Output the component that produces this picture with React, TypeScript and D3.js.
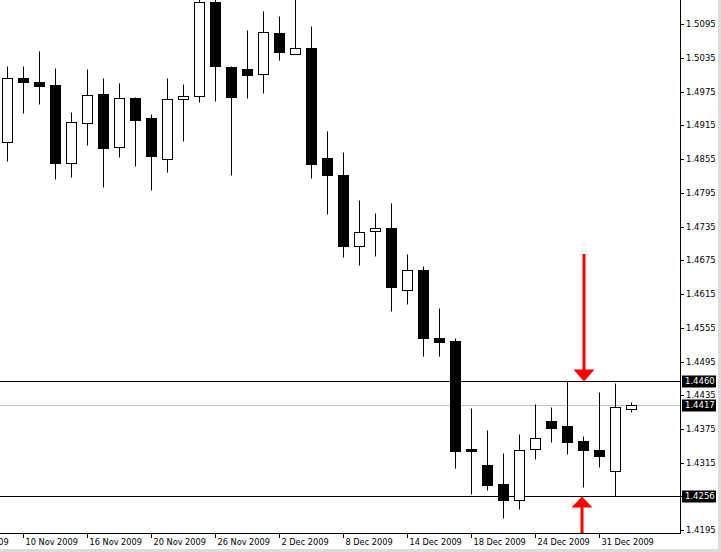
import React from "react";
import * as d3 from "d3";

const dates = [
  "9 Nov 2009","10 Nov 2009","11 Nov 2009","12 Nov 2009","13 Nov 2009",
  "16 Nov 2009","17 Nov 2009","18 Nov 2009","19 Nov 2009","20 Nov 2009",
  "23 Nov 2009","24 Nov 2009","25 Nov 2009","26 Nov 2009","27 Nov 2009",
  "30 Nov 2009","1 Dec 2009","2 Dec 2009","3 Dec 2009","4 Dec 2009",
  "7 Dec 2009","8 Dec 2009","9 Dec 2009","10 Dec 2009","11 Dec 2009",
  "14 Dec 2009","15 Dec 2009","16 Dec 2009","17 Dec 2009","18 Dec 2009",
  "21 Dec 2009","22 Dec 2009","23 Dec 2009","24 Dec 2009",
  "28 Dec 2009","29 Dec 2009","30 Dec 2009","31 Dec 2009",
  "1 Jan 2010","4 Jan 2010",
];
const opens = [1.4885,1.4999,1.4992,1.4987,1.4849,1.4919,1.4971,1.4876,1.4964,1.4928,1.4855,1.4962,1.4967,1.5135,1.5019,1.5015,1.5006,1.5079,1.5043,1.5052,1.4857,1.4827,1.4701,1.4727,1.4733,1.4623,1.4658,1.4537,1.4532,1.4340,1.4311,1.4277,1.4248,1.4339,1.4390,1.4380,1.4354,1.4338,1.4301,1.4411];
const highs = [1.5021,1.5021,1.5048,1.5017,1.4939,1.5015,1.4999,1.4991,1.4965,1.4935,1.4999,1.4989,1.5140,1.5150,1.5021,1.5085,1.5119,1.5110,1.5140,1.5092,1.4905,1.4867,1.4782,1.4759,1.4777,1.4686,1.4665,1.4590,1.4537,1.4412,1.4374,1.4332,1.4366,1.4419,1.4414,1.4460,1.4362,1.4441,1.4457,1.4423];
const lows = [1.4852,1.4938,1.4954,1.4820,1.4824,1.4881,1.4806,1.4859,1.4843,1.4801,1.4833,1.4888,1.4956,1.4959,1.4827,1.4963,1.4972,1.5032,1.5043,1.4821,1.4757,1.4681,1.4667,1.4683,1.4585,1.4598,1.4504,1.4505,1.4305,1.4260,1.4267,1.4217,1.4233,1.4322,1.4352,1.4331,1.4272,1.4307,1.4256,1.4406];
const closes = [1.4999,1.4993,1.4986,1.4849,1.4921,1.4970,1.4875,1.4963,1.4925,1.4861,1.4962,1.4968,1.5134,1.5020,1.4966,1.5004,1.5081,1.5045,1.5052,1.4846,1.4826,1.4701,1.4725,1.4732,1.4628,1.4657,1.4537,1.4530,1.4336,1.4335,1.4276,1.4248,1.4338,1.4359,1.4377,1.4352,1.4338,1.4326,1.4414,1.4417];

const xTickIndex = [-3,1,5,9,13,17,21,25,29,33,37];
const xTickLabels = ["4 Nov 2009","10 Nov 2009","16 Nov 2009","20 Nov 2009","26 Nov 2009","2 Dec 2009","8 Dec 2009","14 Dec 2009","18 Dec 2009","24 Dec 2009","31 Dec 2009"];
const yTicks = [1.5095,1.5035,1.4975,1.4915,1.4855,1.4795,1.4735,1.4675,1.4615,1.4555,1.4495,1.4435,1.4375,1.4315,1.4255,1.4195];
const levelLines = [1.4460, 1.4256];
const lastPrice = 1.4417;
const arrowIndex = 36;

const W = 721, H = 552;
const PR = 680; // plot right (axis line)
const PB = 533; // plot bottom (axis line)
const FONT = "'DejaVu Sans', Tahoma, sans-serif";

export default function App() {
  const x = d3.scaleLinear().domain([0, 39]).range([7.5, 631.5]);
  const y = d3.scaleLinear().domain([1.4195, 1.5095]).range([530.1, 24.3]);
  const cy = (v: number) => Math.round(y(v)) + 0.5;

  const candles = opens.map((o, i) => {
    const c = closes[i];
    const cx = x(i);
    const top = cy(Math.max(o, c));
    const bot = cy(Math.min(o, c));
    const bull = c >= o;
    return (
      <g key={i}>
        <line x1={cx} x2={cx} y1={cy(highs[i])} y2={cy(lows[i])} stroke="#000" strokeWidth={1} />
        <rect x={cx - 5} y={top} width={10} height={Math.max(bot - top, 1)} fill={bull ? "#fff" : "#000"} stroke="#000" strokeWidth={1} />
      </g>
    );
  });

  const ax = x(arrowIndex);
  const downTip = cy(levelLines[0]);
  const upTip = cy(levelLines[1]);

  return (
    <div style={{ position: "fixed", left: 0, top: 0, width: W, height: H, background: "#fff" }}>
      <svg width={W} height={H} style={{ display: "block" }} fontFamily={FONT}>
        <rect x={0} y={0} width={W} height={H} fill="#fff" />
        <defs>
          <clipPath id="plot">
            <rect x={0} y={0} width={PR} height={PB} />
          </clipPath>
        </defs>
        <g clipPath="url(#plot)">
          <line x1={0} x2={PR} y1={cy(lastPrice)} y2={cy(lastPrice)} stroke="#c0c0c0" strokeWidth={1} />
          {levelLines.map((v, i) => (
            <line key={i} x1={0} x2={PR} y1={cy(v)} y2={cy(v)} stroke="#000" strokeWidth={1} />
          ))}
          {candles}
          {/* down arrow */}
          <rect x={ax - 1} y={254} width={3} height={downTip - 11 - 254} fill="#ff0000" />
          <path d={`M${ax - 10},${downTip - 12} L${ax + 11},${downTip - 12} L${ax + 0.5},${downTip} Z`} fill="#ff0000" />
          {/* up arrow */}
          <rect x={ax - 3} y={upTip + 10} width={3} height={PB - upTip} fill="#ff0000" />
          <path d={`M${ax - 12},${upTip + 11} L${ax + 9},${upTip + 11} L${ax - 1.5},${upTip} Z`} fill="#ff0000" />
        </g>
        {/* axes */}
        <line x1={PR + 0.5} x2={PR + 0.5} y1={0} y2={PB + 1} stroke="#000" strokeWidth={1} />
        <line x1={0} x2={PR + 1} y1={PB + 0.5} y2={PB + 0.5} stroke="#000" strokeWidth={1} />
        {yTicks.map((v, i) => (
          <g key={i}>
            <line x1={PR} x2={PR + 4} y1={cy(v)} y2={cy(v)} stroke="#000" />
            <text x={686} y={cy(v)} dy="0.35em" fontSize={8.5} fill="#000">{v.toFixed(4)}</text>
          </g>
        ))}
        {xTickIndex.map((k, i) => (
          <g key={i}>
            <line x1={Math.floor(x(k)) + 0.5} x2={Math.floor(x(k)) + 0.5} y1={PB} y2={PB + 5} stroke="#000" />
            <text x={x(k) + 2} y={545} fontSize={8.2} fill="#000">{xTickLabels[i]}</text>
          </g>
        ))}
        {[...levelLines, lastPrice].map((v, i) => (
          <g key={i}>
            <rect x={682} y={cy(v) - 6} width={34} height={12} fill="#000" />
            <text x={685} y={cy(v)} dy="0.35em" fontSize={8.5} fill="#fff">{v.toFixed(4)}</text>
          </g>
        ))}
        {/* window frame strips */}
        <rect x={718} y={0} width={3} height={H} fill="#dcdcdc" />
        <rect x={0} y={549} width={W} height={3} fill="#dcdcdc" />
      </svg>
    </div>
  );
}
